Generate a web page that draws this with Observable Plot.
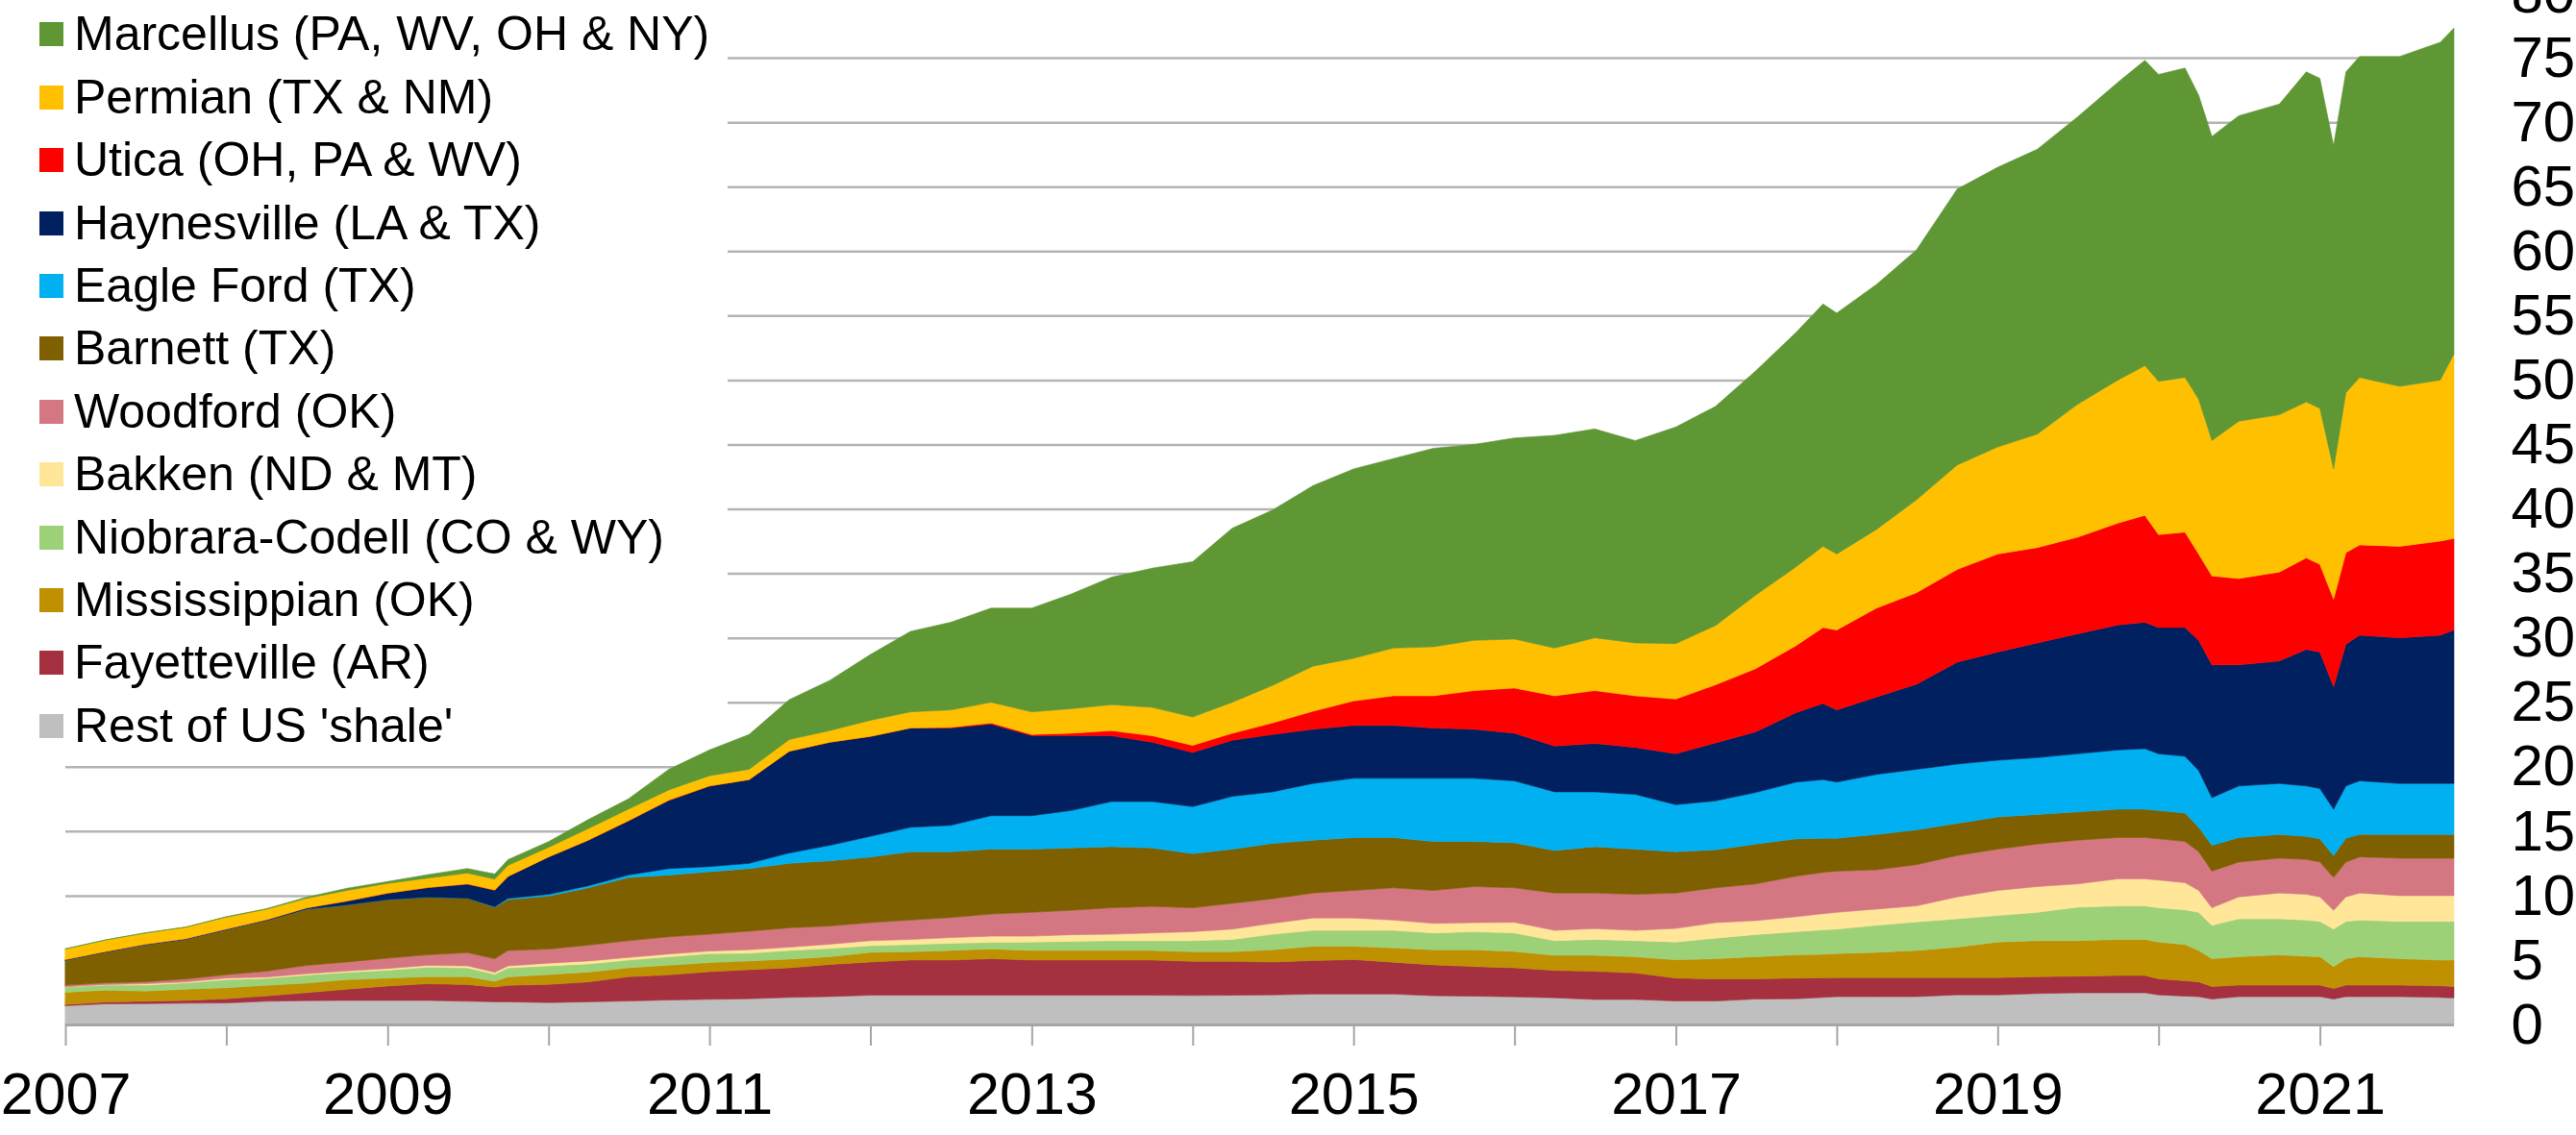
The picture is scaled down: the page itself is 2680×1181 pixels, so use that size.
<!DOCTYPE html>
<html>
<head>
<meta charset="utf-8">
<script src="https://cdn.jsdelivr.net/npm/d3@7"></script>
<script src="https://cdn.jsdelivr.net/npm/@observablehq/plot@0.6"></script>
<style>
  html, body { margin: 0; padding: 0; background: #fff; }
  #chart { position: relative; width: 2680px; height: 1181px; overflow: hidden; font-family: "Liberation Sans", Arial, sans-serif; }
  #legend { position: absolute; left: 0; top: 0; width: 757px; height: 770px; background: #fff; z-index: 2; }
  .row { position: absolute; left: 0; height: 65.4px; line-height: 65.4px; font-size: 50px; color: #000; white-space: nowrap; }
  .sw { position: absolute; left: 41px; width: 25px; height: 25px; top: 20px; }
  .lb { position: absolute; left: 77px; top: 0; }
</style>
</head>
<body>
<div id="chart"><div id="legend"></div></div>
<script>
// Monthly sample dates (first of month)
const dates = [
  "2007-01","2007-04","2007-07","2007-10",
  "2008-01","2008-04","2008-07","2008-10",
  "2009-01","2009-04","2009-07","2009-09","2009-10",
  "2010-01","2010-04","2010-07","2010-10",
  "2011-01","2011-04","2011-07","2011-10",
  "2012-01","2012-04","2012-07","2012-10",
  "2013-01","2013-04","2013-07","2013-10",
  "2014-01","2014-04","2014-07","2014-10",
  "2015-01","2015-04","2015-07","2015-10",
  "2016-01","2016-04","2016-07","2016-10",
  "2017-01","2017-04","2017-07","2017-10","2017-12",
  "2018-01","2018-04","2018-07","2018-10",
  "2019-01","2019-04","2019-07","2019-10","2019-12",
  "2020-01","2020-03","2020-04","2020-05","2020-07","2020-10","2020-12",
  "2021-01","2021-02","2021-03","2021-04","2021-07","2021-10","2021-11"
];

// Series values (Bcf/d), bottom of stack first
const rest = [1.45,1.6,1.62,1.65, 1.67,1.8,1.85,1.87, 1.87,1.87,1.8,1.76,1.76, 1.7,1.76,1.82,1.9, 1.95,2.0,2.1,2.17, 2.27,2.27,2.27,2.27, 2.27,2.27,2.27,2.27, 2.25,2.27,2.3,2.36, 2.36,2.36,2.23,2.2, 2.15,2.07,1.94,1.94, 1.82,1.82,1.97,2.0,2.1, 2.16,2.16,2.16,2.3, 2.3,2.4,2.46,2.46,2.46, 2.3,2.2,2.16,1.97,2.16,2.16,2.16, 2.16,1.97,2.16,2.16,2.16,2.1,2.06];
const fayetteville = [0.1,0.14,0.18,0.22, 0.33,0.42,0.62,0.87, 1.12,1.29,1.3,1.14,1.28, 1.41,1.54,1.88,1.95, 2.15,2.25,2.3,2.49, 2.58,2.73,2.73,2.83, 2.73,2.73,2.73,2.73, 2.65,2.63,2.55,2.6, 2.68,2.47,2.4,2.3, 2.25,2.13,2.19,2.06, 1.78,1.72,1.57,1.6,1.52, 1.48,1.48,1.48,1.34, 1.34,1.3,1.29,1.34,1.34, 1.24,1.2,1.14,0.98,0.89,0.89,0.89, 0.89,0.83,0.89,0.89,0.89,0.9,0.89];
const mississippian = [0.95,0.92,0.8,0.87, 0.86,0.82,0.74,0.74, 0.6,0.55,0.6,0.45,0.65, 0.76,0.77,0.7,0.75, 0.7,0.68,0.67,0.6, 0.75,0.64,0.75,0.76, 0.75,0.75,0.75,0.75, 0.74,0.74,0.95,1.11, 1.03,1.12,1.17,1.3, 1.26,1.17,1.24,1.25, 1.42,1.56,1.72,1.8,1.83, 1.86,1.96,2.11,2.36, 2.76,2.8,2.75,2.8,2.8, 2.86,2.8,2.45,2.15,2.21,2.35,2.25, 2.21,1.7,2.05,2.21,2.05,2.0,2.05];
const niobrara = [0.4,0.4,0.46,0.49, 0.62,0.54,0.63,0.57, 0.63,0.74,0.7,0.55,0.7, 0.68,0.63,0.6,0.66, 0.7,0.6,0.68,0.64, 0.52,0.56,0.55,0.51, 0.65,0.7,0.75,0.75, 0.86,0.96,1.2,1.23, 1.23,1.35,1.3,1.4, 1.44,1.13,1.23,1.25, 1.38,1.6,1.72,1.8,1.9, 1.9,2.1,2.21,2.2, 2.06,2.2,2.6,2.6,2.6, 2.65,2.7,2.95,2.6,2.94,2.8,2.8, 2.74,2.9,2.9,2.84,2.9,3.0,3.0];
const bakken = [0.02,0.04,0.1,0.07, 0.12,0.1,0.1,0.1, 0.12,0.13,0.15,0.15,0.15, 0.21,0.23,0.2,0.21, 0.2,0.27,0.25,0.33, 0.38,0.4,0.44,0.48, 0.45,0.51,0.5,0.6, 0.7,0.8,0.85,0.96, 0.96,0.8,0.75,0.7, 0.83,0.8,0.84,0.8, 1.05,1.2,1.08,1.16,1.25, 1.3,1.25,1.24,1.7, 1.94,2.0,1.8,2.1,2.1, 2.15,2.1,1.7,1.35,1.7,2.0,2.0, 1.9,1.45,1.9,2.1,2.0,2.0,2.0];
const woodford = [0.13,0.13,0.14,0.23, 0.26,0.45,0.64,0.7, 0.8,0.82,1.02,1.05,1.2, 1.09,1.22,1.3,1.33, 1.3,1.44,1.5,1.41, 1.4,1.5,1.56,1.72, 1.85,1.9,2.05,2.06, 1.85,2.0,1.9,1.94, 2.14,2.5,2.55,2.8, 2.67,2.9,2.76,2.8, 2.75,2.7,2.84,3.14,3.2, 3.2,3.05,3.2,3.2, 3.2,3.3,3.4,3.2,3.2, 3.2,3.2,3.0,2.85,2.7,2.7,2.7, 2.7,2.55,2.7,2.8,2.9,2.9,2.9];
const barnett = [1.93,2.37,2.87,3.07, 3.48,3.93,4.36,4.43, 4.55,4.48,4.23,4.0,3.95, 4.12,4.45,4.9,4.8, 4.85,4.86,5.0,5.06, 5.1,5.3,5.1,5.03, 4.9,4.84,4.75,4.54, 4.21,4.2,4.3,4.1, 4.1,3.9,3.8,3.5, 3.5,3.3,3.6,3.5, 3.2,2.95,3.1,2.9,2.65, 2.55,2.75,2.7,2.5, 2.5,2.3,2.2,2.2,2.2, 2.2,2.2,1.9,2.0,1.9,1.85,1.8, 1.8,1.7,1.85,1.75,1.85,1.85,1.85];
const eagleFord = [0,0,0,0, 0,0,0,0, 0,0,0,0.03,0.1, 0.13,0.16,0.2,0.5, 0.4,0.4,0.8,1.2, 1.6,1.9,2.05,2.6, 2.6,2.9,3.5,3.6, 3.64,4.1,4.0,4.4, 4.6,4.6,4.9,4.9, 4.8,4.55,4.25,4.25, 3.65,3.8,4.0,4.4,4.55, 4.35,4.65,4.7,4.6, 4.4,4.4,4.5,4.6,4.7, 4.4,4.4,4.4,3.7,4.0,3.95,3.9, 3.9,3.6,4.05,4.15,3.95,3.95,3.95];
const haynesville = [0.05,0.05,0.05,0.05, 0.06,0.06,0.1,0.3, 0.5,0.74,1.1,1.3,1.7, 2.9,3.54,4.2,5.3, 6.25,6.5,7.9,8.0, 7.75,7.7,7.55,7.1, 6.2,5.8,5.1,4.6, 4.2,4.35,4.45,4.2, 4.1,4.1,3.9,3.8, 3.7,3.55,3.75,3.65, 3.95,4.5,4.7,5.4,5.9, 5.6,6.0,6.6,7.9, 8.4,8.9,9.3,9.7,9.8, 9.8,10.0,10.1,10.3,9.4,9.5,10.6, 10.6,9.5,11.0,11.3,11.3,11.5,11.9];
const utica = [0,0,0,0, 0,0,0,0, 0,0,0,0,0, 0,0,0,0, 0,0,0,0, 0,0,0.05,0.1, 0.1,0.2,0.4,0.5, 0.55,0.55,0.9,1.4, 1.9,2.3,2.5,3.0, 3.5,3.9,4.1,4.0, 4.25,4.5,4.9,5.2,5.9, 6.2,6.9,7.1,7.2, 7.6,7.4,7.5,7.9,8.3, 7.2,7.4,6.7,6.9,6.7,6.9,7.1, 6.8,6.8,7.1,7.0,7.1,7.3,7.1];
const permian = [0.82,0.89,0.87,0.89, 0.93,0.82,0.75,0.82, 0.75,0.73,0.85,0.85,0.85, 0.74,0.9,0.9,0.8, 0.8,0.8,0.9,0.9, 1.25,1.25,1.35,1.6, 1.75,1.9,2.0,2.2, 2.2,2.4,2.9,3.5, 3.3,3.7,3.8,3.9, 3.8,3.7,4.1,4.1, 4.3,4.6,5.7,6.1,6.3, 5.9,6.1,7.2,8.1, 8.3,8.8,10.3,11.1,11.6, 11.9,12.0,12.0,10.5,12.2,12.2,12.1, 12.1,10.1,12.4,13.0,12.4,12.5,14.3];
const marcellus = [0.03,0.02,0.02,0.02, 0.03,0.04,0.08,0.17, 0.15,0.27,0.35,0.4,0.45, 0.45,0.7,0.8,1.6, 2.0,2.7,3.1,3.9, 5.1,6.25,6.8,7.3, 8.05,8.9,9.9,10.8, 12.05,13.5,13.6,14.0, 14.7,14.7,15.4,15.2, 15.6,16.5,16.2,15.7, 16.8,17.0,17.4,18.2,18.8, 18.7,19.0,19.4,21.4, 21.7,22.1,22.3,23.1,23.7, 23.8,24.0,23.6,23.6,23.7,24.1,25.6, 25.6,25.1,24.9,24.9,25.6,26.2,25.3];

// Legend / stack labels and colours (bottom of stack first)
const playNames = ["Rest of US 'shale'","Fayetteville (AR)","Mississippian (OK)","Niobrara-Codell (CO & WY)","Bakken (ND & MT)","Woodford (OK)","Barnett (TX)","Eagle Ford (TX)","Haynesville (LA & TX)","Utica (OH, PA & WV)","Permian (TX & NM)","Marcellus (PA, WV, OH & NY)"];
const playColors = ["#bfbfbf","#a5303f","#bf9000","#9dd177","#ffe699","#d57783","#7f6000","#00b0f0","#002060","#ff0000","#ffc000","#5f9735"];
const playValues = [rest, fayetteville, mississippian, niobrara, bakken, woodford, barnett, eagleFord, haynesville, utica, permian, marcellus];

const yTicks = d3.range(0, 81, 5);
const yearTicks = d3.range(2007, 2022);

const parsed = dates.map(d => new Date(d + "-01T00:00:00Z"));
const table = playNames.flatMap((name, i) => parsed.map((date, j) => ({date, play: name, value: playValues[i][j]})));

const chart = Plot.plot({
  width: 2680,
  height: 1181,
  marginLeft: 68,
  marginRight: 127,
  marginTop: -7,
  marginBottom: 115,
  style: {fontFamily: "'Liberation Sans', Arial, sans-serif", fontSize: "60px", color: "#000", background: "#fff"},
  x: {type: "utc", domain: [new Date("2007-01-01T00:00:00Z"), new Date("2021-11-01T00:00:00Z")]},
  y: {domain: [0, 80]},
  color: {domain: playNames, range: playColors},
  marks: [
    Plot.ruleY(yTicks.filter(v => v > 0), {stroke: "#b4b4b4", strokeWidth: 2.5}),
    Plot.areaY(table, {x: "date", y: "value", fill: "play", stroke: "play", strokeWidth: 0.6, curve: "linear"}),
    Plot.ruleY([0], {stroke: "#a6a6a6", strokeWidth: 3}),
    Plot.axisY({anchor: "right", ticks: yTicks, tickSize: 0, tickPadding: 59, textAnchor: "start", fontSize: 60, label: null}),
    Plot.axisX({ticks: yearTicks.map(y => new Date(Date.UTC(y, 0, 1))), tickSize: 22, tickPadding: 27, stroke: "#a6a6a6", strokeWidth: 2, fontSize: 61, label: null,
      tickFormat: d => d.getUTCFullYear() % 2 ? String(d.getUTCFullYear()) : ""})
  ]
});

const container = document.getElementById("chart");
container.insertBefore(chart, container.firstChild);

// Legend (top to bottom: Marcellus ... Rest)
const legend = document.getElementById("legend");
const order = playNames.map((n, i) => i).reverse();
order.forEach((idx, r) => {
  const row = document.createElement("div");
  row.className = "row";
  row.style.top = (36 + r * 65.4 - 32.7) + "px";
  row.style.width = "757px";
  const sw = document.createElement("div");
  sw.className = "sw";
  sw.style.background = playColors[idx];
  const lb = document.createElement("div");
  lb.className = "lb";
  lb.textContent = playNames[idx];
  row.appendChild(sw);
  row.appendChild(lb);
  legend.appendChild(row);
});
</script>
</body>
</html>
